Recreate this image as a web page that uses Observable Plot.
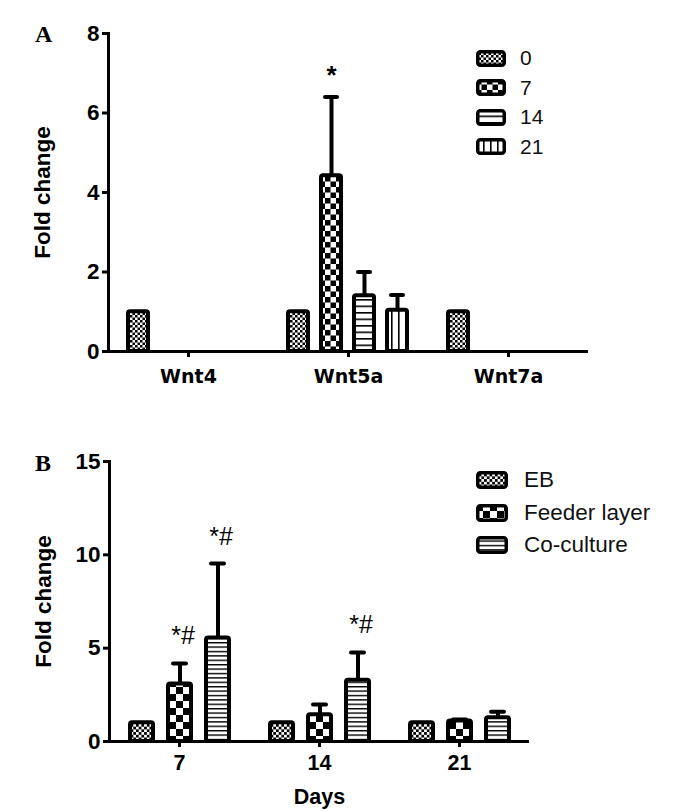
<!DOCTYPE html>
<html><head><meta charset="utf-8">
<script src="https://cdn.jsdelivr.net/npm/d3@7"></script>
<script src="https://cdn.jsdelivr.net/npm/@observablehq/plot@0.6"></script>
<style>
body{margin:0;background:#fff;}
#wrap{position:relative;width:688px;height:812px;font-family:"Liberation Sans",Arial,sans-serif;color:#000;}
.panel{position:absolute;left:0;}
.letter{position:absolute;font-family:"Liberation Serif","Times New Roman",serif;font-weight:bold;font-size:24px;line-height:1;}
.lrow{position:absolute;display:flex;align-items:center;white-space:nowrap;color:#111;}
.lrow svg{display:block;}
</style></head><body>
<svg width="0" height="0" style="position:absolute">
<defs>
  <pattern id="fineA" patternUnits="userSpaceOnUse" width="5" height="5"><rect width="5" height="5" fill="#fff"/><rect width="2.5" height="2.5" fill="#000"/><rect x="2.5" y="2.5" width="2.5" height="2.5" fill="#000"/></pattern>
  <pattern id="checkA" patternUnits="userSpaceOnUse" width="11" height="11"><rect width="11" height="11" fill="#fff"/><rect width="5.5" height="5.5" fill="#000"/><rect x="5.5" y="5.5" width="5.5" height="5.5" fill="#000"/></pattern>
  <pattern id="hlineA" patternUnits="userSpaceOnUse" width="6" height="6.5"><rect width="6" height="6.5" fill="#fff"/><rect y="0" width="6" height="1.6" fill="#000"/></pattern>
  <pattern id="vlineA" patternUnits="userSpaceOnUse" width="7" height="7"><rect width="7" height="7" fill="#fff"/><rect x="0" width="1.6" height="7" fill="#000"/></pattern>
  <pattern id="fineB" patternUnits="userSpaceOnUse" width="5.4" height="5.4"><rect width="5.4" height="5.4" fill="#fff"/><rect width="2.7" height="2.7" fill="#000"/><rect x="2.7" y="2.7" width="2.7" height="2.7" fill="#000"/></pattern>
  <pattern id="checkB" patternUnits="userSpaceOnUse" width="14" height="14"><rect width="14" height="14" fill="#fff"/><rect width="7" height="7" fill="#000"/><rect x="7" y="7" width="7" height="7" fill="#000"/></pattern>
  <pattern id="hlineB" patternUnits="userSpaceOnUse" width="6" height="4.4"><rect width="6" height="4.4" fill="#fff"/><rect y="0" width="6" height="1.4" fill="#000"/></pattern>
</defs>
</svg>
<div id="wrap"></div>
<script>
// ---------- Panel A data ----------
const genes = ["Wnt4", "Wnt5a", "Wnt7a"];
const daysA = ["0", "7", "14", "21"];
const foldWnt4  = [1, 0, 0, 0];
const foldWnt5a = [1, 4.42, 1.4, 1.04];
const foldWnt7a = [1, 0, 0, 0];
const errWnt4   = [0, 0, 0, 0];
const errWnt5a  = [0, 1.98, 0.6, 0.38];
const errWnt7a  = [0, 0, 0, 0];
const starsA = [{gene: "Wnt5a", day: "7", label: "*"}];
const yTicksA = [0, 2, 4, 6, 8];

// ---------- Panel B data ----------
const daysB = ["7", "14", "21"];
const groupsB = ["EB", "Feeder layer", "Co-culture"];
const foldEB     = [1, 1, 1];
const foldFeeder = [3.08, 1.43, 1.1];
const foldCo     = [5.55, 3.28, 1.27];
const errEB      = [0, 0, 0];
const errFeeder  = [1.1, 0.55, 0.08];
const errCo      = [3.98, 1.49, 0.33];
const starsB = [
  {day: "7", group: "Feeder layer", label: "*#"},
  {day: "7", group: "Co-culture", label: "*#"},
  {day: "14", group: "Co-culture", label: "*#"}
];
const yTicksB = [0, 5, 10, 15];

// ---------- build tables ----------
const foldA = [foldWnt4, foldWnt5a, foldWnt7a];
const errA = [errWnt4, errWnt5a, errWnt7a];
const rowsA = genes.flatMap((g, i) => daysA.map((d, j) => ({gene: g, day: d, value: foldA[i][j], err: errA[i][j]})));
const foldB = [foldEB, foldFeeder, foldCo];
const errB = [errEB, errFeeder, errCo];
const rowsB = daysB.flatMap((d, i) => groupsB.map((g, j) => ({day: d, group: g, value: foldB[j][i], err: errB[j][i]})));
const starRowsA = starsA.map(s => {const r = rowsA.find(d => d.gene === s.gene && d.day === s.day); return {...s, top: r.value + r.err};});
const starRowsB = starsB.map(s => {const r = rowsB.find(d => d.day === s.day && d.group === s.group); return {...s, top: r.value + r.err};});

const patA = {"0": "url(#fineA)", "7": "url(#checkA)", "14": "url(#hlineA)", "21": "url(#vlineA)"};
const patB = {"EB": "url(#fineB)", "Feeder layer": "url(#checkB)", "Co-culture": "url(#hlineB)"};
const font = '"Liberation Sans", Arial, sans-serif';
const wideFont = '"DejaVu Sans", "Liberation Sans", sans-serif';

const plotA = Plot.plot({
  width: 688, height: 400,
  marginLeft: 108, marginRight: 100, marginTop: 33, marginBottom: 49,
  style: {fontFamily: font, color: "#000", background: "transparent"},
  fx: {domain: genes, paddingInner: 0, paddingOuter: 0},
  x: {domain: daysA, paddingInner: 0.382, paddingOuter: 0.563, axis: null},
  y: {domain: [0, 8]},
  color: {domain: daysA, range: daysA.map(d => patA[d])},
  marks: [
    Plot.barY(rowsA, {fx: "gene", x: "day", y: "value", fill: "day", stroke: "#000", strokeWidth: 4, rx: 2}),
    Plot.ruleX(rowsA.filter(d => d.err > 0), {fx: "gene", x: "day", y1: "value", y2: d => d.value + d.err, stroke: "#000", strokeWidth: 4}),
    Plot.tickY(rowsA.filter(d => d.err > 0), {fx: "gene", x: "day", y: d => d.value + d.err, stroke: "#000", strokeWidth: 4, strokeLinecap: "round", insetLeft: 4, insetRight: 4}),
    Plot.ruleY([0], {stroke: "#000", strokeWidth: 3}),
    Plot.frame({anchor: "left", facetAnchor: "left", stroke: "#000", strokeWidth: 3}),
    Plot.axisY({ticks: yTicksA, tickSize: 6, strokeWidth: 3, tickPadding: 3, fontSize: 22.5, fontWeight: "bold", label: "Fold change", labelAnchor: "center", labelArrow: "none", labelOffset: 74}),
    Plot.axisFx({anchor: "bottom", tickSize: 6, strokeWidth: 3, tickPadding: 12, fontSize: 19, fontFamily: wideFont, fontWeight: "bold", label: null}),
    Plot.text(starRowsA, {fx: "gene", x: "day", y: "top", text: "label", dy: -21, fontSize: 26, fontWeight: "bold"})
  ]
});

const plotB = Plot.plot({
  width: 688, height: 412,
  marginLeft: 108, marginRight: 158, marginTop: 61, marginBottom: 71,
  style: {fontFamily: font, color: "#000", background: "transparent"},
  fx: {domain: daysB, paddingInner: 0, paddingOuter: 0},
  x: {domain: groupsB, paddingInner: 0.403, paddingOuter: 0.53, axis: null},
  y: {domain: [0, 15]},
  color: {domain: groupsB, range: groupsB.map(g => patB[g])},
  marks: [
    Plot.barY(rowsB, {fx: "day", x: "group", y: "value", fill: "group", stroke: "#000", strokeWidth: 4, rx: 2}),
    Plot.ruleX(rowsB.filter(d => d.err > 0), {fx: "day", x: "group", y1: "value", y2: d => d.value + d.err, stroke: "#000", strokeWidth: 4}),
    Plot.tickY(rowsB.filter(d => d.err > 0), {fx: "day", x: "group", y: d => d.value + d.err, stroke: "#000", strokeWidth: 4, strokeLinecap: "round", insetLeft: 5, insetRight: 5}),
    Plot.ruleY([0], {stroke: "#000", strokeWidth: 3}),
    Plot.frame({anchor: "left", facetAnchor: "left", stroke: "#000", strokeWidth: 3}),
    Plot.axisY({ticks: yTicksB, tickSize: 6, strokeWidth: 3, tickPadding: 3, fontSize: 22.5, fontWeight: "bold", label: "Fold change", labelAnchor: "center", labelArrow: "none", labelOffset: 74}),
    Plot.axisFx({anchor: "bottom", tickSize: 6, strokeWidth: 3, tickPadding: 7, fontSize: 21.5, fontWeight: "bold", label: "Days", labelAnchor: "center", labelArrow: "none", labelOffset: 62}),
    Plot.text(starRowsB, {fx: "day", x: "group", y: "top", text: "label", dy: -27, dx: 3, fontSize: 25})
  ]
});

const wrap = document.getElementById("wrap");
function place(el, top) { const d = document.createElement("div"); d.className = "panel"; d.style.top = top + "px"; d.appendChild(el); wrap.appendChild(d); }
place(plotA, 0);
place(plotB, 400);

function letter(t, x, y) { const d = document.createElement("div"); d.className = "letter"; d.textContent = t; d.style.left = x + "px"; d.style.top = y + "px"; wrap.appendChild(d); }
letter("A", 35, 22);
letter("B", 35, 451);

function legend(items, pats, x, y0, step, sw, sh, fs, gap) {
  items.forEach((it, i) => {
    const row = document.createElement("div");
    row.className = "lrow";
    row.style.left = x + "px";
    row.style.top = (y0 + i * step - 14) + "px";
    row.style.height = "28px";
    row.style.fontSize = fs + "px";
    const ns = "http://www.w3.org/2000/svg";
    const s = document.createElementNS(ns, "svg");
    s.setAttribute("width", sw); s.setAttribute("height", sh);
    const r = document.createElementNS(ns, "rect");
    r.setAttribute("x", 1.75); r.setAttribute("y", 1.75);
    r.setAttribute("width", sw - 3.5); r.setAttribute("height", sh - 3.5);
    r.setAttribute("rx", 2.5);
    r.setAttribute("fill", pats[it]); r.setAttribute("stroke", "#000"); r.setAttribute("stroke-width", 3.5);
    s.appendChild(r);
    row.appendChild(s);
    const t = document.createElement("span");
    t.textContent = it; t.style.marginLeft = gap + "px";
    row.appendChild(t);
    wrap.appendChild(row);
  });
}
legend(daysA, patA, 476, 58, 29.5, 30, 17, 21, 14);
legend(groupsB, patB, 476, 480, 32.5, 32, 18, 22.5, 16);
</script>
</body></html>
